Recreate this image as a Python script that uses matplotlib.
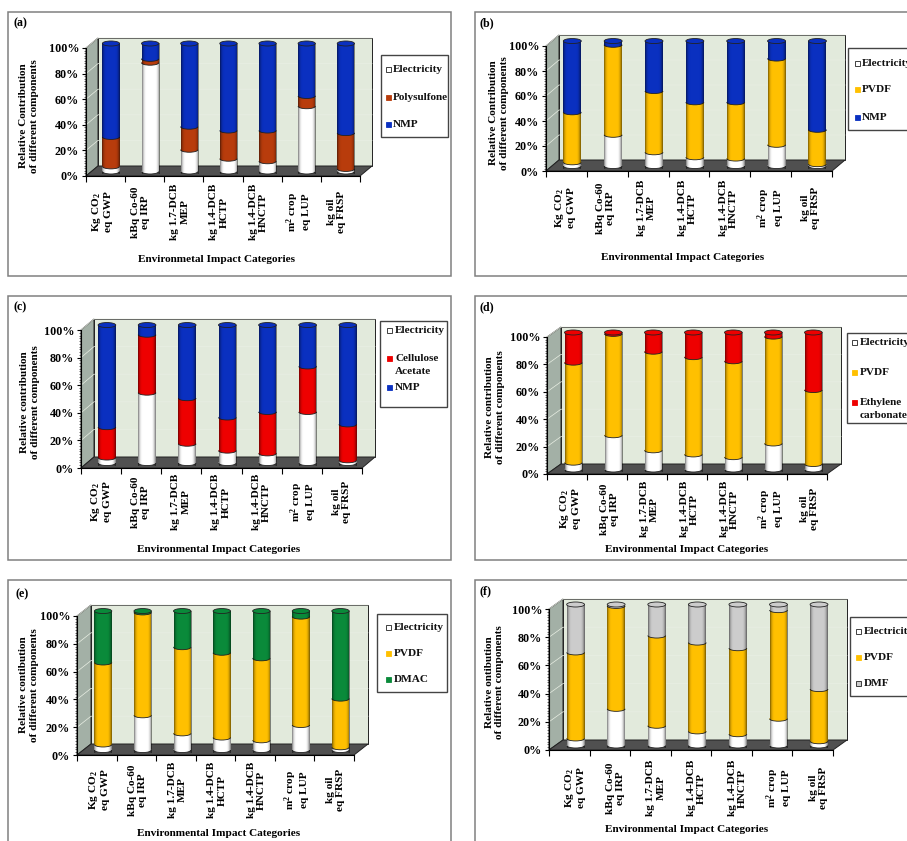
"""Six stacked 3D-look cylinder charts: contribution of membrane components to impact categories."""

import numpy as np
import matplotlib
matplotlib.use("Agg")
import matplotlib.pyplot as plt
from matplotlib.patches import Rectangle, Polygon, Ellipse, Arc
from matplotlib.ticker import MultipleLocator
from matplotlib.transforms import Affine2D

plt.rcParams["font.family"] = ["Liberation Serif", "DejaVu Serif"]
plt.rcParams["font.weight"] = "bold"
plt.rcParams["mathtext.default"] = "regular"

W, H = 907, 841

categories = ["Kg CO$_2$\neq GWP", "kBq Co-60\neq IRP", "kg 1.7-DCB\nMEP", "kg 1.4-DCB\nHCTP",
              "kg 1.4-DCB\nHNCTP", "m$^2$ crop\neq LUP", "kg oil\neq FRSP"]

a_elec = [4, 85, 17, 10, 8, 51, 2]
a_poly = [23, 3, 18, 22, 24, 8, 28]
a_nmp = [73, 12, 65, 68, 68, 41, 70]

b_elec = [3, 25, 11, 7, 6, 17, 1.5]
b_pvdf = [40, 72, 49, 44, 45, 69, 27.5]
b_nmp = [57, 3, 40, 49, 49, 14, 71]

c_elec = [4, 51, 14, 9, 7, 37, 2]
c_ca = [22, 42, 33, 24, 30, 33, 26]
c_nmp = [74, 7, 53, 67, 63, 30, 72]

d_elec = [5, 25, 14, 11, 9, 19, 4]
d_pvdf = [73, 74, 72, 71, 70, 78, 54]
d_ec = [22, 1, 14, 18, 21, 3, 42]

e_elec = [4, 25, 12, 9, 7, 18, 2]
e_pvdf = [59, 74, 62, 61, 59, 78, 35]
e_dmac = [37, 1, 26, 30, 34, 4, 63]

f_elec = [5, 26, 14, 10, 8, 19, 3]
f_pvdf = [61, 73, 64, 63, 61, 77, 37]
f_dmf = [34, 1, 22, 27, 31, 4, 60]

WHITE, BROWN, BLUE = "#ffffff", "#b83c0c", "#0a30c0"
AMBER, RED, GREEN, GREY = "#ffc000", "#ee0000", "#0a8a3a", "#cccccc"

# all geometry below is in reference pixels, y down
panels = [
    dict(tag="(a)", tag_xy=(13, 23), frame=(8, 12, 451, 276), axis=(86, 360, 176, 48), depth=(12, 10),
         series=[a_elec, a_poly, a_nmp], colors=[WHITE, BROWN, BLUE],
         ylabel="Relative Contribution\nof different components", ylabel_xy=(29, 116),
         xlabel="Environmetal Impact Categories", xlabel_xy=(217, 259), cat_xy=(99, 339, 212),
         box=(381, 55, 448, 137), sq_x=388, txt_x=393,
         legend=[("Electricity", 69, 0), ("Polysulfone", 97, 1), ("NMP", 124, 2)]),
    dict(tag="(b)", tag_xy=(480, 23), frame=(475, 12, 930, 276), axis=(546, 832, 171, 46), depth=(13, 11),
         series=[b_elec, b_pvdf, b_nmp], colors=[WHITE, AMBER, BLUE],
         ylabel="Relative Contribution\nof different components", ylabel_xy=(499, 113),
         xlabel="Environmental Impact Categories", xlabel_xy=(683, 258), cat_xy=(568, 807, 208),
         box=(848, 48, 930, 130), sq_x=857, txt_x=862,
         legend=[("Electricity", 63, 0), ("PVDF", 89, 1), ("NMP", 117, 2)]),
    dict(tag="(c)", tag_xy=(13, 307), frame=(8, 296, 451, 560), axis=(81, 362, 468, 330), depth=(13, 11),
         series=[c_elec, c_ca, c_nmp], colors=[WHITE, RED, BLUE],
         ylabel="Relative contribution\nof different components", ylabel_xy=(30, 402),
         xlabel="Environmental Impact Categories", xlabel_xy=(219, 549), cat_xy=(100, 342, 502),
         box=(380, 321, 447, 407), sq_x=389, txt_x=395,
         legend=[("Electricity", 330, 0), ("Cellulose", 358, 1), ("Acetate", 371, None), ("NMP", 387, 2)]),
    dict(tag="(d)", tag_xy=(480, 307), frame=(475, 296, 930, 560), axis=(547, 827, 474, 337), depth=(14, 10),
         series=[d_elec, d_pvdf, d_ec], colors=[WHITE, AMBER, RED],
         ylabel="Relative contribution\nof different components", ylabel_xy=(495, 407),
         xlabel="Environmental Impact Categories", xlabel_xy=(687, 550), cat_xy=(569, 810, 509),
         box=(847, 333, 930, 423), sq_x=854, txt_x=860,
         legend=[("Electricity", 342, 0), ("PVDF", 372, 1), ("Ethylene", 402, 2), ("carbonate", 415, None)]),
    dict(tag="(e)", tag_xy=(16, 594), frame=(8, 580, 451, 860), axis=(77, 354, 755, 616), depth=(14, 11),
         series=[e_elec, e_pvdf, e_dmac], colors=[WHITE, AMBER, GREEN],
         ylabel="Relative contibution\nof different components", ylabel_xy=(29, 685),
         xlabel="Environmental Impact Categories", xlabel_xy=(219, 833), cat_xy=(97, 337, 790),
         box=(377, 614, 447, 692), sq_x=388, txt_x=394,
         legend=[("Electricity", 627, 0), ("PVDF", 653, 1), ("DMAC", 679, 2)]),
    dict(tag="(f)", tag_xy=(480, 591), frame=(475, 580, 930, 860), axis=(549, 833, 750, 609), depth=(14, 10),
         series=[f_elec, f_pvdf, f_dmf], colors=[WHITE, AMBER, GREY],
         ylabel="Relative ontibution\nof different components", ylabel_xy=(494.5, 682),
         xlabel="Environmental Impact Categories", xlabel_xy=(687, 830), cat_xy=(576, 817, 788),
         box=(850, 617, 930, 696), sq_x=858, txt_x=864,
         legend=[("Electricity", 631, 0), ("PVDF", 657, 1), ("DMF", 683, 2)]),
]

WALL, SIDE, FLOOR = "#e2eadc", "#a3b0a6", "#505050"
BAR_W = 0.44
CAP_PX = 5.0
FS = 8.1

fig = plt.figure(figsize=(W / 100, H / 100), dpi=100, facecolor="white")
bg = fig.add_axes([0, 0, 1, 1], zorder=0)
bg.set_xlim(0, W)
bg.set_ylim(H, 0)
bg.axis("off")

# soft darkening towards the cylinder sides
shade = np.array([0.42, 0.2, 0.08, 0.02, 0, 0, 0, 0, 0, 0, 0, 0, 0, 0.02, 0.1, 0.24, 0.45])
shade_rgba = np.zeros((1, len(shade), 4))
shade_rgba[0, :, 3] = shade


def px_axes(x0, x1, y0, y100, z):
    ax = fig.add_axes([x0 / W, 1 - y0 / H, (x1 - x0) / W, (y0 - y100) / H], zorder=z)
    ax.set_xlim(-0.5, 6.5)
    ax.set_ylim(0, 100)
    ax.patch.set_alpha(0)
    return ax


def draw_walls(p):
    x0, x1, y0, y100 = p["axis"]
    dx, dy = p["depth"]
    bg.add_patch(Rectangle((x0 + dx, y100 - dy), x1 - x0, y0 - y100, fc=WALL, ec="#222222", lw=0.7))
    bg.add_patch(Polygon([(x0, y0), (x0, y100), (x0 + dx, y100 - dy), (x0 + dx, y0 - dy)],
                         fc=SIDE, ec="#222222", lw=0.7))
    for t in range(20, 101, 20):
        yy = y0 - (y0 - y100) * t / 100
        bg.plot([x0, x0 + dx, x1 + dx], [yy, yy - dy, yy - dy], color="#e9efe4", lw=0.5)
    bg.add_patch(Polygon([(x0, y0), (x0 + dx, y0 - dy), (x1 + dx, y0 - dy), (x1, y0)],
                         fc=FLOOR, ec="#222222", lw=0.7))


def draw_cylinders(p):
    x0, x1, y0, y100 = p["axis"]
    dx, dy = p["depth"]
    ax = px_axes(x0 + dx * 0.45, x1 + dx * 0.45, y0 - dy * 0.45, y100 - dy * 0.45, 2)
    ax.axis("off")
    cap = CAP_PX / ((y0 - y100) / 100)
    xs = np.arange(len(categories))
    bottom = np.zeros(len(xs))
    for vals, col in zip(p["series"], p["colors"]):
        ax.bar(xs, vals, BAR_W, bottom=bottom, color=col, linewidth=0, zorder=2)
        for x, b in zip(xs, bottom):
            ax.add_patch(Ellipse((x, b), BAR_W, cap, fc=col, ec="none", zorder=2, clip_on=False))
            ax.add_patch(Arc((x, b), BAR_W, cap, theta1=180, theta2=360, ec="#222222", lw=0.6,
                             zorder=2.5, clip_on=False))
        bottom = bottom + np.array(vals)
    for x, top in zip(xs, bottom):
        ax.imshow(shade_rgba, extent=(x - BAR_W / 2, x + BAR_W / 2, -cap / 2, top), aspect="auto",
                  interpolation="bilinear", zorder=3, clip_on=False)
        ax.add_patch(Ellipse((x, top), BAR_W, cap, fc=p["colors"][-1], ec="#222222", lw=0.6,
                             zorder=4, clip_on=False))
    ax.set_xlim(-0.5, 6.5)
    ax.set_ylim(0, 100)


def draw_front_axis(p):
    x0, x1, y0, y100 = p["axis"]
    ax = px_axes(x0, x1, y0, y100, 3)
    for s in ("top", "right"):
        ax.spines[s].set_visible(False)
    ax.spines["left"].set_linewidth(0.8)
    ax.spines["bottom"].set_linewidth(0.8)

    ax.yaxis.set_major_locator(MultipleLocator(20))
    ax.yaxis.set_minor_locator(MultipleLocator(2))
    ax.yaxis.set_major_formatter(lambda v, _: f"{v:.0f}%")
    ax.tick_params(axis="y", which="major", length=3, width=0.8, pad=2, labelsize=FS + 0.6)
    ax.tick_params(axis="y", which="minor", length=1.5, width=0.4)

    # ticks sit between categories, labels on hidden minor ticks at the centres
    ax.set_xticks(np.arange(-0.5, 7, 1))
    ax.set_xticklabels([])
    ax.tick_params(axis="x", which="major", length=4, width=0.8)
    ax.set_xticks(np.arange(len(categories)), categories, minor=True)
    c0, c6, cy = p["cat_xy"]
    step = (x1 - x0) / 7
    off = (c0 + c6) / 2 - (x0 + 3.5 * step)
    ax.tick_params(axis="x", which="minor", length=0, pad=(cy - y0) * 0.72, labelsize=FS)
    for lab in ax.get_xticklabels(minor=True):
        lab.set_rotation(90)
        lab.set_va("center")
        lab.set_ha("center")
        lab.set_multialignment("center")
        lab.set_linespacing(1.15)
        lab.set_transform(lab.get_transform() + Affine2D().translate(off, 0))

    ax.set_ylabel(p["ylabel"], fontsize=FS, fontweight="bold", va="center", ha="center", linespacing=1.2)
    ax.yaxis.set_label_coords(*p["ylabel_xy"], transform=bg.transData)
    ax.set_xlabel(p["xlabel"], fontsize=FS, fontweight="bold", va="center", ha="center")
    ax.xaxis.set_label_coords(*p["xlabel_xy"], transform=bg.transData)


def draw_legend(p):
    bx0, by0, bx1, by1 = p["box"]
    bg.add_patch(Rectangle((bx0, by0), bx1 - bx0, by1 - by0, fc="white", ec="#444444", lw=1.0))
    for label, y, idx in p["legend"]:
        if idx is not None:
            col = p["colors"][idx]
            edge = "#222222" if col in (WHITE, GREY) else col
            bg.add_patch(Rectangle((p["sq_x"] - 2.5, y - 2.5), 5, 5, fc=col, ec=edge, lw=0.6))
        bg.text(p["txt_x"], y, label, fontsize=FS, ha="left", va="center", color="#111111")


for p in panels:
    fx0, fy0, fx1, fy1 = p["frame"]
    bg.add_patch(Rectangle((fx0, fy0), fx1 - fx0, fy1 - fy0, fc="white", ec="#808080", lw=1.1))
    bg.text(*p["tag_xy"], p["tag"], fontsize=FS + 0.5, ha="left", va="center")
    draw_walls(p)
    draw_cylinders(p)
    draw_front_axis(p)
    draw_legend(p)

fig.savefig("out.png", dpi=100, facecolor="white")
